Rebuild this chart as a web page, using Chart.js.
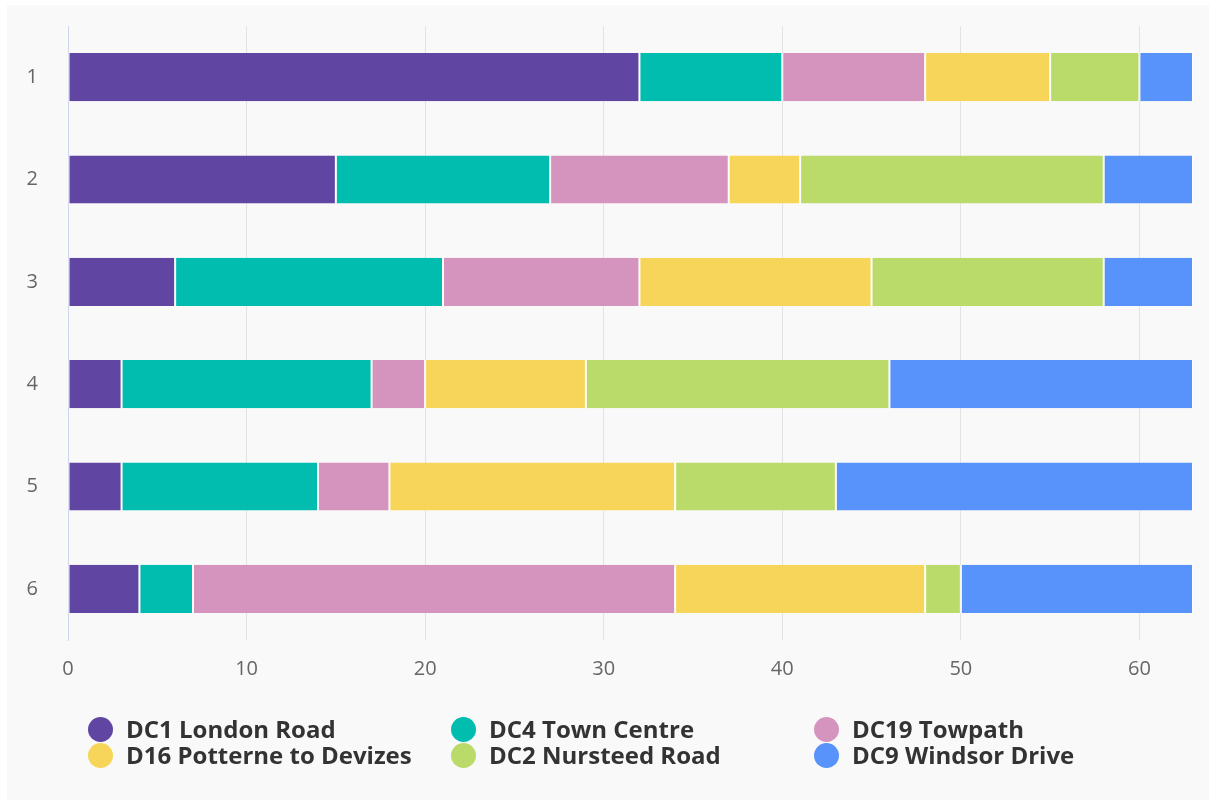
<!DOCTYPE html>
<html>
<head>
<meta charset="utf-8">
<script src="https://cdn.jsdelivr.net/npm/chart.js@4/dist/chart.umd.min.js"></script>
<style>
  html, body { margin: 0; padding: 0; background: #ffffff; }
  #wrap { position: relative; width: 1209px; height: 800px; overflow: hidden; background: #ffffff; }
  #panel { position: absolute; left: 7px; top: 5px; width: 1202px; height: 795px; background: #f9f9f9; }
  #chartBox { position: absolute; left: 0; top: 0; width: 1209px; height: 700px; }
  #legend { position: absolute; left: 0; top: 0; width: 1209px; height: 800px; pointer-events: none; }
  .item { position: absolute; display: flex; align-items: center; font-family: "Open Sans", sans-serif; font-weight: 700; font-size: 24px; color: #333333; white-space: nowrap; line-height: 26px; }
  .dot { width: 25px; height: 25px; border-radius: 50%; margin-right: 13px; }
</style>
</head>
<body>
<div id="wrap">
  <div id="panel"></div>
  <div id="chartBox"><canvas id="c" width="1209" height="700"></canvas></div>
  <div id="legend"></div>
</div>
<script>
const categories = ["1", "2", "3", "4", "5", "6"];
const seriesNames = ["DC1 London Road", "DC4 Town Centre", "DC19 Towpath", "D16 Potterne to Devizes", "DC2 Nursteed Road", "DC9 Windsor Drive"];
const seriesColors = ["#6046a2", "#00bdb0", "#d594bd", "#f7d558", "#badb69", "#5892fb"];
const dc1London = [32, 15, 6, 3, 3, 4];
const dc4Town = [8, 12, 15, 14, 11, 3];
const dc19Towpath = [8, 10, 11, 3, 4, 27];
const d16Potterne = [7, 4, 13, 9, 16, 14];
const dc2Nursteed = [5, 17, 13, 17, 9, 2];
const dc9Windsor = [3, 5, 5, 17, 20, 13];
const xTicks = [0, 10, 20, 30, 40, 50, 60];
const xMax = 63;

const seriesValues = [dc1London, dc4Town, dc19Towpath, d16Potterne, dc2Nursteed, dc9Windsor];

const datasets = seriesNames.map((name, i) => ({
  label: name,
  data: seriesValues[i],
  backgroundColor: seriesColors[i],
  borderColor: "#ffffff",
  borderWidth: { left: 1, right: 1, top: 0, bottom: 0 },
  borderSkipped: false,
  barPercentage: 0.47,
  categoryPercentage: 1.0
}));

new Chart(document.getElementById("c"), {
  type: "bar",
  data: { labels: categories, datasets: datasets },
  options: {
    indexAxis: "y",
    responsive: false,
    animation: false,
    events: [],
    layout: { padding: { top: 26, right: 16, bottom: 0, left: 0 } },
    plugins: { legend: { display: false }, tooltip: { enabled: false } },
    scales: {
      x: {
        stacked: true,
        min: 0,
        max: xMax,
        afterBuildTicks: (scale) => { scale.ticks = xTicks.map(v => ({ value: v })); },
        afterFit: (scale) => { scale.height = 60; scale.paddingLeft = 0; scale.paddingRight = 0; },
        grid: { color: "#e3e3e3", lineWidth: 1, drawTicks: false },
        border: { display: false },
        ticks: { color: "#666666", padding: 17, font: { family: "Open Sans", size: 20 } }
      },
      y: {
        stacked: true,
        afterFit: (scale) => { scale.width = 68; scale.paddingTop = 0; scale.paddingBottom = 0; },
        grid: { display: false, drawTicks: false },
        border: { display: true, color: "#ccd6eb", width: 1 },
        ticks: { color: "#666666", padding: 30, font: { family: "Open Sans", size: 20 } }
      }
    }
  }
});

const legend = document.getElementById("legend");
const colX = [88, 451, 814];
const rowY = [716, 742];
seriesNames.forEach((name, i) => {
  const el = document.createElement("div");
  el.className = "item";
  el.style.left = colX[i % 3] + "px";
  el.style.top = rowY[Math.floor(i / 3)] + "px";
  const dot = document.createElement("span");
  dot.className = "dot";
  dot.style.background = seriesColors[i];
  const txt = document.createElement("span");
  txt.textContent = name;
  el.appendChild(dot);
  el.appendChild(txt);
  legend.appendChild(el);
});
</script>
</body>
</html>
